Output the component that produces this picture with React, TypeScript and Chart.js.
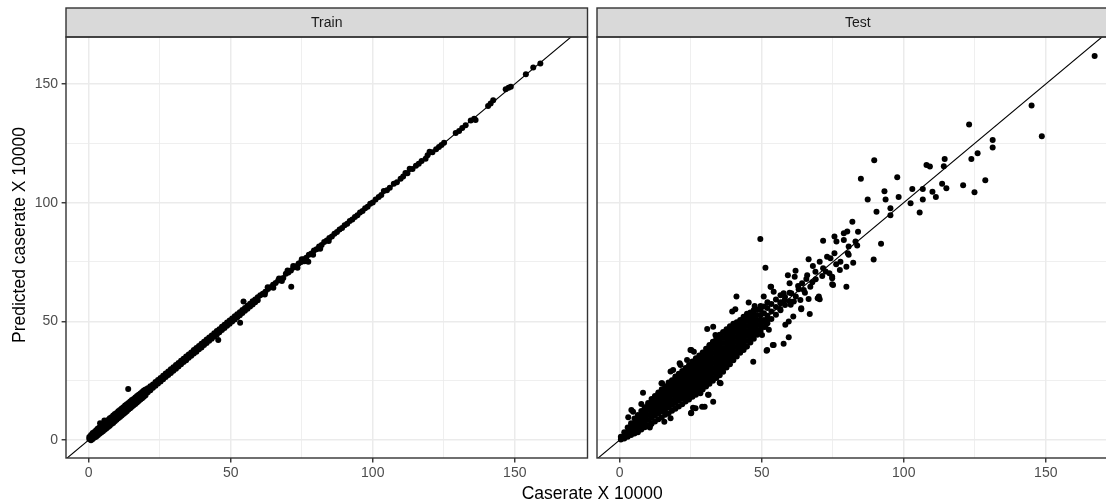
import React, { useEffect, useRef } from "react";
import { Chart, registerables } from "chart.js";
Chart.register(...registerables);

// ---------------- data ----------------
const panelLabels = ["Train", "Test"];
const xTitle = "Caserate X 10000";
const yTitle = "Predicted caserate X 10000";
const xTicks = [0, 25, 50, 75, 100, 125, 150];
const yTicks = [0, 25, 50, 75, 100, 125, 150];
const majorTicks = [0, 50, 100, 150];
const xRange = [-8.0, 175.6];
const yRange = [-7.6, 169.8];
const identityLine = [-20, 200];

// Train panel: dense band along y = x
const trainLow: number[][] = [
  [0.2,1.2],[0.2,0.4],[0.8,2.1],[0.8,0.9],[0.8,-0.1],[1.4,2.9],[1.4,1.5],[1.4,0.4],[2,3.4],[2,2.1],[2,1],
  [2.6,4.1],[2.6,2.5],[2.6,1.4],[3.2,4.8],[3.2,3.1],[3.2,2],[3.8,5.3],[3.8,3.9],[3.8,2.6],[4,7.0],[4.4,6],[4.4,4.3],[4.4,3.1],
  [5,6.6],[5,5.1],[5,3.7],[5.5,8.2],[5.6,7.1],[5.6,5.6],[5.6,4.3],[6.2,7.9],[6.2,6.3],[6.2,4.8],[6.8,8.4],[6.8,6.8],[6.8,5.5],
  [7.4,9.1],[7.4,7.5],[7.4,6],[8,9.6],[8,8.1],[8,6.7],[8.6,10.3],[8.6,8.7],[8.6,7.2],[9.2,10.9],[9.2,9.3],[9.2,7.9],
  [9.8,11.4],[9.8,9.9],[9.8,8.5],[10.4,12.1],[10.4,10.5],[10.4,9.1],[11,12.6],[11,11.2],[11,9.7],[11.6,13.3],[11.6,11.7],[11.6,10.3],
  [12.2,13.8],[12.2,12.3],[12.2,10.9],[12.8,14.5],[12.8,12.9],[12.8,11.5],[13.4,15],[13.4,13.5],[13.4,12.1],[13.9,21.5],
  [14,15.6],[14,14.1],[14,12.8],[14.6,16.2],[14.6,14.7],[14.6,13.4],[15.2,16.8],[15.2,15.3],[15.2,14],[15.8,17.3],[15.8,15.9],[15.8,14.6],
  [16.4,17.9],[16.4,16.5],[16.4,15.2],[17,18.5],[17,17.1],[17,15.8],[17.6,19.1],[17.6,17.7],[17.6,16.4],[18.2,19.6],[18.2,18.3],[18.2,17],
  [18.8,20.2],[18.8,18.9],[18.8,17.6],[19.4,20.8],[19.4,19.5],[19.4,18.2],[20,21.3],[20,20.1],[20,18.8],
];
const trainMid: number[][] = [
  [20.8,21.8],[20.8,20.1],[21.7,22.6],[21.7,21.0],[22.6,23.4],[22.6,22.0],[23.5,24.4],[23.5,22.8],[24.4,25.3],[24.4,23.8],
  [25.3,26.1],[25.3,24.6],[26.2,27.1],[26.2,25.6],[27.1,28.0],[27.1,26.5],[28,28.8],[28,27.4],[28.9,29.8],[28.9,28.2],
  [29.8,30.6],[29.8,29.2],[30.7,31.6],[30.7,30.0],[31.6,32.4],[31.6,31.0],[32.5,33.4],[32.5,31.9],[33.4,34.2],[33.4,32.8],
  [34.3,35.2],[34.3,33.6],[35.2,36.0],[35.2,34.6],[36.1,36.9],[36.1,35.5],[37,37.9],[37,36.4],[37.9,38.7],[37.9,37.2],
  [38.8,39.6],[38.8,38.2],[39.7,40.5],[39.7,39.0],[40.6,41.4],[40.6,40.0],[41.5,42.3],[41.5,40.9],[42.4,43.2],[42.4,41.8],
  [43.3,44.0],[43.3,42.7],[44.2,45.0],[44.2,43.6],[45.1,45.9],[45.1,44.4],[45.6,42.1],[46,46.7],[46,45.4],[46.9,47.7],[46.9,46.3],
  [47.8,48.5],[47.8,47.2],[48.7,49.5],[48.7,48.1],[49.6,50.3],[49.6,49.0],[50.5,51.2],[50.5,49.9],[51.4,52.1],[51.4,50.8],
  [52.3,53.0],[52.3,51.7],[53.2,53.8],[53.2,52.6],[53.3,49.4],[54.1,54.8],[54.1,53.5],[54.5,58.3],[55,55.6],[55,54.4],
  [55.9,56.6],[55.9,55.3],[56.8,57.4],[56.8,56.2],[57.7,58.4],[57.7,57.1],[58.6,59.2],[58.6,58.0],[59.5,60.1],[59.5,58.9],
];
const trainHigh: number[][] = [
  [60.4,61],[61.3,61.6],[62,61.3],[62.2,62.5],[63,64.4],[63.1,63.6],[64,64.3],[64.9,65.4],[65,64.1],[65.8,66.1],[66.7,67.2],
  [67,68],[67.6,67.9],[68,67],[68.5,68.3],[69.4,70],[70,71.4],[70.3,70.6],[71.2,71.4],[71.3,64.6],[72,73.3],[72.1,72.7],
  [73,73.2],[73.5,72.6],[73.9,74.4],[74.8,75],[75,76.1],[75.7,76.2],[76,75.3],[76.6,76.8],[77.3,75.1],[77.5,78],[78.4,78.6],
  [79,78],[79.3,79.8],[80.2,80.4],[81.1,81.5],[81.5,80.6],[82,82.2],[82.9,83.4],[83.8,84],[84.5,83.8],[84.7,85.1],[85.6,85.7],
  [86.5,86.9],[87.4,87.6],[88.3,88.7],[89.2,89.3],[90.1,90.5],[91,91.1],[91.9,92.3],[92.8,92.9],[93.7,94],[94.6,94.7],
  [95.5,95.9],[96.4,96.5],[97.3,97.6],[98.2,98.3],[99.1,99.5],[100,100.1],[101,101.3],[102.1,102.4],[103,103.2],[103.9,104.9],
  [105,105.2],[106,106.3],[107.4,108],[108.5,108.6],[109.8,110.1],[110.7,111],[111.5,112.5],[112.2,112.4],[113,114.3],[114,114.2],
  [115.2,115.5],[116.2,116.4],[117.2,117.5],[118.6,118.5],[119.3,120],[120,121.4],[121,121.2],[122.3,122.5],[123.3,123.5],
  [124.2,124.3],[125.1,125.2],[129.2,129.4],[130.4,130.2],[131.5,131.5],[132.7,132.6],[134.5,134.6],[135.7,135.4],[136.2,134.8],
  [140.6,140.7],[141.5,141.8],[142.4,143.2],[146.8,147.8],[147.8,148.4],[148.6,148.8],[153.9,154.1],[156.5,156.9],[159,158.6],
];

// Test panel: dense core, read column by column [x, y1, y2, ...]
const testCore: number[][] = [
  [0.4,0.2,1.4],[1.6,0.6,1.9,3.2],[2.8,1.4,3.4,5.2],[4.0,2.1,4.0,6.0,7.0],[5.2,2.7,4.9,7.0,9.0],
  [6.4,3.3,5.3,7.4,9.5,10.5],[7.6,4.4,6.4,8.5,10.6,12.2],[8.8,5.4,7.5,9.6,11.7,13.8],[10.0,6.1,8.4,10.5,12.6,14.7,15.6],
  [11.2,6.8,9.3,11.4,13.5,15.6,17.3],[12.4,7.8,10.2,12.3,14.4,16.5,18.5],[13.6,8.7,11.1,13.2,15.3,17.4,19.5,20],
  [14.8,9.5,12.0,14.1,16.2,18.3,20.4,21.4],[16.0,10.6,12.9,15.0,17.1,19.2,21.3,22.6],[17.2,11.3,13.8,15.9,18.0,20.1,22.2,24.2],
  [18.4,12.3,14.7,16.8,18.9,21.0,23.1,25.2],[19.6,13.2,15.6,17.7,19.8,21.9,24.0,26.1,26.7],[20.8,14.1,16.5,18.6,20.7,22.8,24.9,27.0,27.9],
  [22.0,15.1,17.4,19.5,21.6,23.7,25.8,27.9,29.1],[23.2,16.2,18.3,20.4,22.5,24.6,26.7,28.8,30.3],[24.4,17.0,19.2,21.3,23.4,25.5,27.6,29.7,31.6],
  [25.6,18.2,20.1,22.2,24.3,26.4,28.5,30.6,32.7,33.1],[26.8,19.1,21.0,23.1,25.2,27.3,29.4,31.5,33.6,34.4],
  [28.0,20.1,21.9,24.0,26.1,28.2,30.3,32.4,34.5,35.6],[29.2,21.3,22.8,24.9,27.0,29.1,31.2,33.3,35.4,36.9],
  [30.4,22.5,23.9,26.0,28.1,30.2,32.3,34.4,36.5,38.4],[31.6,23.7,25.0,27.1,29.2,31.3,33.4,35.5,37.6,39.7,40.0],
  [32.8,24.9,26.1,28.2,30.3,32.4,34.5,36.6,38.7,40.8,41.4],[34.0,26.1,27.2,29.3,31.4,33.5,35.6,37.7,39.8,41.9,43.0],
  [35.2,27.3,28.9,31.0,33.1,35.2,37.3,39.4,41.5,43.6,44.3],[36.4,28.7,30.4,32.5,34.6,36.7,38.8,40.9,43.0,45.1,45.5],
  [37.6,30.5,32.1,34.2,36.3,38.4,40.5,42.6,44.7,46.6],[38.8,31.9,33.6,35.7,37.8,39.9,42.0,44.1,46.2,47.9],
  [40.0,33.6,35.3,37.4,39.5,41.6,43.7,45.8,47.9,49.0],[41.2,35.2,37.0,39.1,41.2,43.3,45.4,47.5,49.6],
  [42.4,36.7,38.7,40.8,42.9,45.0,47.1,49.2,50.6],[43.6,37.9,40.2,42.3,44.4,46.5,48.6,50.7,51.9],
  [44.8,39.4,41.7,43.8,45.9,48.0,50.1,52.2,53.2],[46.0,41.1,43.2,45.3,47.4,49.5,51.6,53.7],
  [47.2,42.7,44.9,47.0,49.1,51.2,53.3,54.8],[48.4,44.3,46.4,48.5,50.6,52.7,55.0],[49.6,46.0,48.2,50.4,52.6,54.8,56.5],
  [50.8,47.6,50.5,53.4,56.2],[52.0,49.2,52.3,55.6,58.0],[53.4,51.0,54.1,57.3],[55.0,52.8,56.0,59.2],
  [56.6,54.7,58.0,61.0],[58.2,56.9,60.2],[59.8,58.4,62.0],
];
const testScatter: number[][] = [
  [167.2,161.8],[145,140.9],[148.6,128],[123,132.9],[131.3,126.4],[131.3,123.2],[126,120.8],[123.8,118.4],[114.4,118.4],
  [114.1,115.3],[108,115.9],[109.2,115.2],[89.6,117.9],[84.9,110.1],[97.7,110.7],[128.7,109.4],[120.9,107.3],[124.9,104.4],
  [113.5,108],[115,106.1],[110.1,104.6],[106.7,105.8],[103,105.8],[93.2,104.8],[98.2,102.4],[87.3,101.3],[93.6,101.3],
  [106.7,101.3],[111.3,102.4],[102.4,99.7],[105.6,95.8],[95.3,97.6],[95.3,94.7],[90.4,96.2],[81.9,92],[83.9,87.7],[92,82.7],
  [89.4,76],[78.9,87.1],[80.1,87.8],[75.6,85.7],[71.6,83.9],[76.3,83.6],[78.9,84.3],[83,83.6],[83.6,81.9],[80.6,81.5],
  [80.3,78.7],[80.6,78],[75.6,78.7],[73,77.2],[74.2,76.6],[77.7,75.1],[79.8,73],[82.2,74.7],[66.5,76.1],[70.4,75.1],[68,73.3],
  [71.6,72.4],[68.9,70.9],[61.9,71.3],[59.2,69.4],[66,69.4],[71.3,69.1],[74.8,68.8],[74.8,65.6],[79.8,64.6],[61.6,68.8],
  [59.8,66],[64.2,66],[67.1,64.6],[64.8,63.2],[54.2,62.5],[57.7,61.8],[53.1,64.6],[60.4,61.8],[63.6,59],[66.5,59.4],[69.7,59.7],
  [61.3,58.3],[56.6,57.6],[63.9,55.1],[66.9,53.1],[61.1,52],[59.5,49.9],[58.3,48.5],[59.5,43.3],[54.2,40],[57.7,40.5],
  [51.9,37.9],[49.5,84.7],[51.3,72.6],[41.1,60.4],[40.7,55.1],[39.6,54.1],[45.4,57.9],[47.5,56.5],[50.7,60.4],[53.3,64.6],
  [38.4,46.4],[30.8,46.8],[32.9,47.7],[33.7,44.2],[24.9,37.9],[26.1,37.2],[23.7,33.7],[8.2,19.9],[4.7,11.9],[7.6,15.2],
  [14.9,23.9],[17.9,28.8],[18.8,29.5],[21.4,31.6],[25.1,11.3],[26.7,13.4],[29,14],[32.9,16.1],[31.3,19],[35.5,23.9],
  [37.8,33.7],[37.2,32.3],[47,33],[63.9,55.5],[70.1,60.4],[70.4,59.3],[74.8,68.1],[75.1,65.3],[77.5,71.6],[50.7,49.9],
  [51.9,50.6],[51.3,47.7],[52.5,46.4],[53.9,40],[50.1,44.2],[44.3,39.3],[27.3,21.1],[28.4,19.7],[15.7,7.7],[17.9,9.1],
  [10.8,6.3],[4.1,12.6],[3,9.6],[25.8,13.6],[29.9,14],[25.2,11.5],[10.6,5.2],[51.7,37.6],[35.2,24.1],[31.1,19],[14.7,23.9],
  [25.2,37.9],[21.1,32.3],[56.5,55.2],[58,58.8],[60.2,57],[62,60.5],[63,63.5],[65.2,62],[67.8,66.5],[69,67.7],[72.5,71],
  [73.8,70.2],[76.2,74],[62.8,64.9],[65.7,67.8],
];

// ---------------- layout / style ----------------
const W = 1106;
const H = 500;
const FONT = "'Liberation Sans', Arial, Helvetica, sans-serif";
const STRIP_TOP = 8;
const PANEL_TOP = 37;
const PANEL_BOTTOM = 458;
const LEFT_PANEL = [66, 587.5];
const RIGHT_PANEL = [597, 1118.5];
const RIGHT_CANVAS_W = 1130;
const POINT_R = 3.0;

const isMajor = (v: number) => majorTicks.includes(v);

const facetPlugin = {
  id: "facet",
  afterDraw(chart: any, _args: any, opts: any) {
    const { ctx, chartArea: a } = chart;
    ctx.save();
    ctx.fillStyle = "#D9D9D9";
    ctx.fillRect(a.left, STRIP_TOP, a.right - a.left, a.top - STRIP_TOP);
    ctx.strokeStyle = "#333333";
    ctx.lineWidth = 1.4;
    ctx.strokeRect(a.left, STRIP_TOP, a.right - a.left, a.top - STRIP_TOP);
    ctx.strokeRect(a.left, a.top, a.right - a.left, a.bottom - a.top);
    ctx.fillStyle = "#1A1A1A";
    ctx.font = `14px ${FONT}`;
    ctx.textAlign = "center";
    ctx.textBaseline = "middle";
    ctx.fillText(opts.label, (a.left + a.right) / 2, (STRIP_TOP + a.top) / 2 + 0.5);
    if (opts.titles) {
      ctx.fillStyle = "#000000";
      ctx.font = `17.5px ${FONT}`;
      ctx.textBaseline = "alphabetic";
      ctx.fillText(xTitle, (LEFT_PANEL[0] + RIGHT_PANEL[1]) / 2, 499);
      ctx.save();
      ctx.translate(25, 235);
      ctx.rotate(-Math.PI / 2);
      ctx.fillText(yTitle, 0, 0);
      ctx.restore();
    }
    ctx.restore();
  },
};

const toXY = (pts: number[][]) => pts.map(([x, y]) => ({ x, y }));
const coreToXY = (cols: number[][]) =>
  cols.flatMap(([x, ...ys]) => ys.map((y) => ({ x, y })));

function makeConfig(points: { x: number; y: number }[], panel: number, canvasW: number) {
  const isLeft = panel === 0;
  const bounds = isLeft ? LEFT_PANEL : RIGHT_PANEL;
  const gridCommon = {
    color: "#EBEBEB",
    lineWidth: (c: any) => (c.tick && isMajor(c.tick.value) ? 1.5 : 0.8),
  };
  return {
    type: "scatter" as const,
    data: {
      datasets: [
        {
          data: points,
          pointRadius: POINT_R,
          pointHoverRadius: POINT_R,
          pointBackgroundColor: "#000000",
          pointBorderWidth: 0,
          order: 1,
        },
        {
          data: identityLine.map((v) => ({ x: v, y: v })),
          showLine: true,
          borderColor: "#000000",
          borderWidth: 1.1,
          pointRadius: 0,
          order: 0,
        },
      ],
    },
    options: {
      responsive: false,
      animation: false,
      events: [],
      layout: {
        padding: {
          left: isLeft ? 0 : bounds[0],
          right: canvasW - bounds[1],
          top: PANEL_TOP,
          bottom: 0,
        },
      },
      plugins: {
        legend: { display: false },
        tooltip: { enabled: false },
        facet: { label: panelLabels[panel], titles: isLeft },
      },
      scales: {
        x: {
          type: "linear",
          min: xRange[0],
          max: xRange[1],
          afterBuildTicks: (s: any) => {
            s.ticks = xTicks.map((v) => ({ value: v }));
          },
          afterFit: (s: any) => {
            s.height = H - PANEL_BOTTOM;
          },
          border: { display: false },
          grid: {
            ...gridCommon,
            drawTicks: true,
            tickLength: 4.4,
            tickWidth: 1.4,
            tickColor: (c: any) => (c.tick && isMajor(c.tick.value) ? "#333333" : "rgba(0,0,0,0)"),
          },
          ticks: {
            autoSkip: false,
            maxRotation: 0,
            padding: 2,
            color: "#4D4D4D",
            font: { family: FONT, size: 14 },
            callback: (v: any) => (isMajor(v) ? String(v) : ""),
          },
        },
        y: {
          type: "linear",
          min: yRange[0],
          max: yRange[1],
          afterBuildTicks: (s: any) => {
            s.ticks = yTicks.map((v) => ({ value: v }));
          },
          afterFit: (s: any) => {
            s.width = isLeft ? bounds[0] : 0;
          },
          border: { display: false },
          grid: {
            ...gridCommon,
            drawTicks: isLeft,
            tickLength: 4.4,
            tickWidth: 1.4,
            tickColor: (c: any) => (c.tick && isMajor(c.tick.value) ? "#333333" : "rgba(0,0,0,0)"),
          },
          ticks: {
            display: isLeft,
            autoSkip: false,
            padding: 3.5,
            color: "#4D4D4D",
            font: { family: FONT, size: 14 },
            callback: (v: any) => (isMajor(v) ? String(v) : ""),
          },
        },
      },
    },
    plugins: [facetPlugin],
  };
}

export default function App() {
  const leftRef = useRef<HTMLCanvasElement>(null);
  const rightRef = useRef<HTMLCanvasElement>(null);

  useEffect(() => {
    const trainPts = toXY([...trainLow, ...trainMid, ...trainHigh]);
    const testPts = [...coreToXY(testCore), ...toXY(testScatter)];
    const c1 = new Chart(leftRef.current as HTMLCanvasElement, makeConfig(trainPts, 0, W) as any);
    const c2 = new Chart(rightRef.current as HTMLCanvasElement, makeConfig(testPts, 1, RIGHT_CANVAS_W) as any);
    return () => {
      c1.destroy();
      c2.destroy();
    };
  }, []);

  return (
    <div
      style={{
        position: "fixed",
        left: 0,
        top: 0,
        width: W,
        height: H,
        overflow: "hidden",
        background: "#FFFFFF",
      }}
    >
      <canvas
        ref={leftRef}
        width={W}
        height={H}
        style={{ position: "absolute", left: 0, top: 0, width: W, height: H }}
      />
      <canvas
        ref={rightRef}
        width={RIGHT_CANVAS_W}
        height={H}
        style={{ position: "absolute", left: 0, top: 0, width: RIGHT_CANVAS_W, height: H }}
      />
    </div>
  );
}
